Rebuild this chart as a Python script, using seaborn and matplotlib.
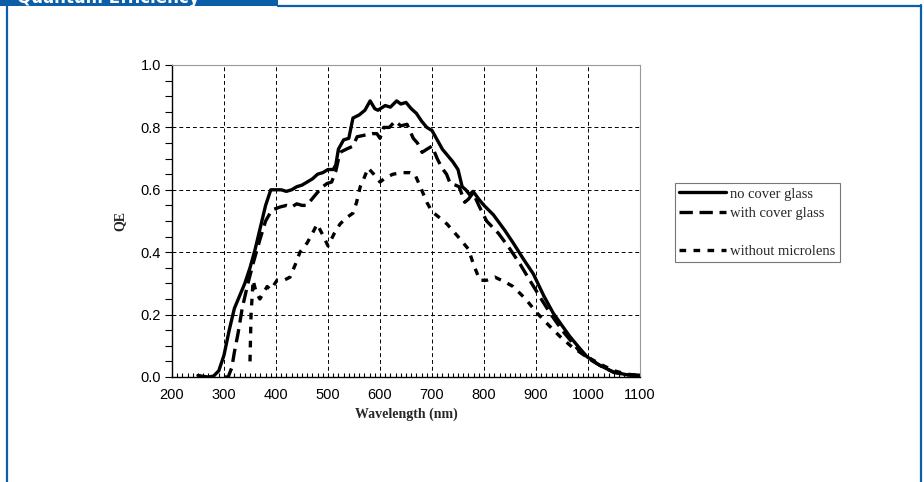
import numpy as np
import pandas as pd
import matplotlib
matplotlib.use("Agg")
import matplotlib.pyplot as plt
import seaborn as sns
from matplotlib.lines import Line2D
from matplotlib.patches import Rectangle
from matplotlib.ticker import MultipleLocator

# Datos
wl_no_cover = [250, 260, 270, 280, 290, 300, 310, 320, 330, 340, 350, 360, 370, 380, 390,
               400, 410, 420, 430, 440, 450, 460, 470, 480, 490, 500, 510, 515, 520, 530,
               540, 548, 560, 571, 581, 590, 596, 610, 620, 632, 640, 650, 660, 670, 680,
               690, 700, 710, 720, 730, 740, 750, 758, 765, 772, 779, 790, 800, 818, 840,
               856, 875, 895, 915, 933, 950, 965, 985, 998, 1020, 1048, 1075, 1100]
qe_no_cover = [0.005, 0.002, 0.0, 0.003, 0.02, 0.07, 0.15, 0.22, 0.26, 0.30, 0.35, 0.41, 0.48, 0.55, 0.60,
               0.60, 0.60, 0.595, 0.60, 0.61, 0.615, 0.625, 0.635, 0.65, 0.655, 0.665, 0.665, 0.68, 0.73, 0.76,
               0.765, 0.83, 0.84, 0.855, 0.885, 0.86, 0.855, 0.87, 0.865, 0.885, 0.875, 0.88, 0.86, 0.845, 0.82,
               0.80, 0.79, 0.76, 0.73, 0.71, 0.69, 0.665, 0.61, 0.60, 0.585, 0.595, 0.57, 0.55, 0.52, 0.47,
               0.43, 0.38, 0.33, 0.26, 0.205, 0.165, 0.13, 0.09, 0.065, 0.04, 0.016, 0.007, 0.005]

wl_cover = [300, 308, 315, 320, 327, 335, 346, 357, 369, 380, 392, 400, 408, 420, 430, 440, 450,
            459, 469, 479, 490, 498, 507, 515, 523, 535, 548, 556, 570, 585, 594, 600, 607, 618,
            629, 640, 652, 664, 672, 681, 690, 700, 710, 719, 728, 735, 745, 752, 763, 770, 779,
            790, 805, 828, 850, 870, 888, 910, 927, 950, 970, 985, 1000, 1025, 1050, 1075, 1100]
qe_cover = [0.0, 0.0, 0.03, 0.08, 0.14, 0.22, 0.30, 0.37, 0.44, 0.50, 0.535, 0.54, 0.545, 0.55, 0.545, 0.555, 0.55,
            0.55, 0.57, 0.59, 0.61, 0.62, 0.625, 0.66, 0.72, 0.73, 0.74, 0.77, 0.775, 0.78, 0.78, 0.765, 0.80, 0.80,
            0.82, 0.805, 0.81, 0.765, 0.75, 0.72, 0.73, 0.74, 0.70, 0.67, 0.65, 0.62, 0.615, 0.61, 0.56, 0.57, 0.59,
            0.55, 0.50, 0.46, 0.41, 0.36, 0.31, 0.25, 0.205, 0.15, 0.11, 0.08, 0.06, 0.035, 0.015, 0.007, 0.005]

wl_no_lens = [350, 352, 356, 362, 369, 376, 383, 390, 402, 415, 427, 437, 446, 460, 470, 479, 490,
              500, 512, 523, 535, 548, 555, 562, 570, 577, 588, 600, 612, 625, 643, 658, 667, 680,
              690, 700, 715, 729, 750, 770, 780, 792, 805, 821, 840, 856, 880, 902, 925, 946, 970,
              998, 1025, 1050, 1075, 1100]
qe_no_lens = [0.05, 0.20, 0.31, 0.27, 0.25, 0.27, 0.29, 0.28, 0.31, 0.31, 0.32, 0.36, 0.40, 0.43, 0.46, 0.49, 0.455,
              0.42, 0.46, 0.49, 0.51, 0.525, 0.56, 0.61, 0.64, 0.67, 0.65, 0.625, 0.64, 0.65, 0.655, 0.655, 0.65, 0.60,
              0.56, 0.53, 0.51, 0.49, 0.45, 0.41, 0.36, 0.31, 0.31, 0.32, 0.305, 0.29, 0.25, 0.205, 0.165, 0.13, 0.095,
              0.065, 0.04, 0.02, 0.009, 0.005]

labels = ["no cover glass", "with cover glass", "without microlens"]
x_ticks = [200, 300, 400, 500, 600, 700, 800, 900, 1000, 1100]
y_ticks = [0.0, 0.2, 0.4, 0.6, 0.8, 1.0]

BLUE = "#0B5EA8"

sns.set_theme(style="white")
plt.rcParams["font.family"] = ["Liberation Sans", "DejaVu Sans"]

fig = plt.figure(figsize=(9.24, 4.82), dpi=100)
ax = fig.add_axes([172 / 924, 105 / 482, 468 / 924, 312 / 482])

# Curvas
estilos = [(None, 2.4), ((4, 2), 2.4), ((2, 2.2), 2.4)]
series = [(wl_no_cover, qe_no_cover), (wl_cover, qe_cover), (wl_no_lens, qe_no_lens)]
for (wl, qe), (dash, lw), lab in zip(series, estilos, labels):
    sns.lineplot(x=wl, y=qe, ax=ax, color="black", linewidth=lw, label=lab, legend=False)
    l = ax.lines[-1]
    if dash is not None:
        l.set_dashes(dash)

ax.set_xlim(200, 1100)
ax.set_ylim(0, 1.0)
ax.set_xticks(x_ticks)
ax.set_yticks(y_ticks)
ax.set_yticklabels([f"{v:.1f}" for v in y_ticks])
ax.xaxis.set_minor_locator(MultipleLocator(10))
ax.yaxis.set_minor_locator(MultipleLocator(0.05))
ax.tick_params(axis="x", which="both", direction="in", length=3, width=0.8, colors="black",
               labelsize=10.5, pad=8, bottom=True)
ax.tick_params(axis="y", which="both", direction="out", length=5, width=0.8, colors="black",
               labelsize=10.5, pad=3, left=True)
ax.grid(True, which="major", color="black", linestyle=(0, (4, 3)), linewidth=0.7)

for side in ["left", "bottom"]:
    ax.spines[side].set_color("black")
    ax.spines[side].set_linewidth(1.0)
for side in ["top", "right"]:
    ax.spines[side].set_color("#999999")
    ax.spines[side].set_linewidth(0.8)

ax.set_xlabel("Wavelength (nm)", family=["Liberation Serif"], fontweight="bold", fontsize=10, labelpad=4)
ax.set_ylabel("QE", family=["Liberation Serif"], fontweight="bold", fontsize=10, labelpad=10)

# Leyenda
handles = [Line2D([], [], color="black", lw=2.4),
           Line2D([], [], color="black", lw=2.4, dashes=(4, 2)),
           Line2D([], [], color="none", lw=0),
           Line2D([], [], color="black", lw=2.4, dashes=(2, 2.2))]
leg = fig.legend(handles, ["no cover glass", "with cover glass", " ", "without microlens"],
                 loc="upper left", bbox_to_anchor=(675 / 924, 1 - 183 / 482),
                 prop={"family": "Liberation Serif", "size": 10.5}, frameon=True, fancybox=False,
                 handlelength=3.2, handletextpad=0.3, borderpad=0.3, labelspacing=0.4,
                 borderaxespad=0)
leg.get_frame().set_edgecolor("#555555")
leg.get_frame().set_linewidth(0.8)

# Marco azul y cabecera
fig.patches.append(Rectangle((0, 476 / 482), 278 / 924, 6 / 482, transform=fig.transFigure,
                             facecolor=BLUE, edgecolor="none"))
fig.lines.append(Line2D([278 / 924, 920.5 / 924], [476 / 482, 476 / 482], transform=fig.transFigure,
                        color=BLUE, lw=1.6))
fig.lines.append(Line2D([6.5 / 924, 6.5 / 924], [0, 477 / 482], transform=fig.transFigure,
                        color=BLUE, lw=1.6))
fig.lines.append(Line2D([920.5 / 924, 920.5 / 924], [0, 477 / 482], transform=fig.transFigure,
                        color=BLUE, lw=1.6))
fig.text(17 / 924, 479 / 482, "Quantum Efficiency", color="white", fontweight="bold",
         fontsize=12, family=["DejaVu Sans"], va="baseline", ha="left")

fig.savefig("out.png", dpi=100)
